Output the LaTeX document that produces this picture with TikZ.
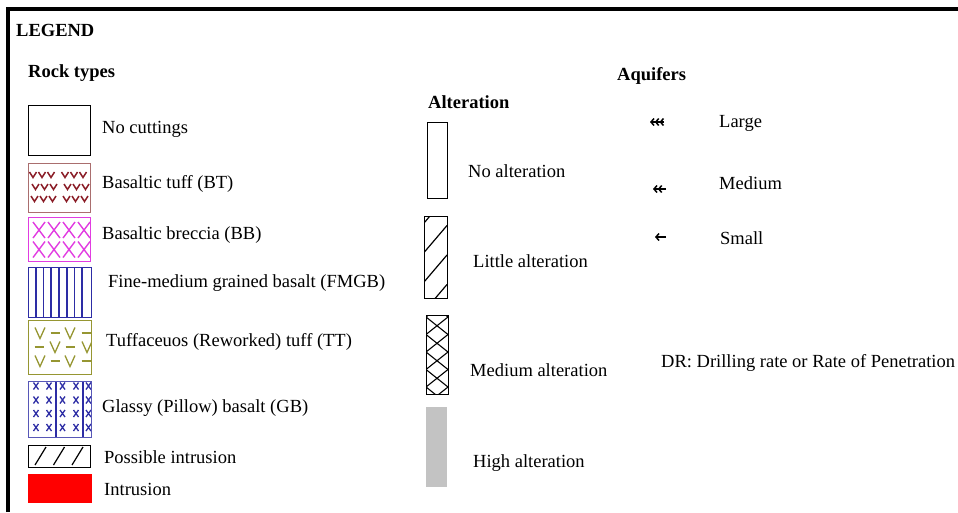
\documentclass[tikz,border=0pt]{standalone}
\usepackage{fontspec}
\setmainfont{Liberation Serif}
\usetikzlibrary{arrows.meta}
\definecolor{TuffRed}{RGB}{139,30,40}
\definecolor{TuffEdge}{RGB}{170,110,110}
\definecolor{BrecciaPink}{RGB}{225,60,225}
\definecolor{BasaltBlue}{RGB}{45,45,165}
\definecolor{ReworkOlive}{RGB}{150,150,50}
\definecolor{AltGray}{RGB}{195,195,195}

\begin{document}
\begin{tikzpicture}[x=1pt, y=-1pt, every node/.style={inner sep=0pt, anchor=base west, font=\fontsize{18.5}{22}\selectfont},
  head/.style={font=\fontsize{18.5}{22}\selectfont\bfseries},
  swatch/.style={line width=1pt},
  aqarrow/.style={line width=1.5pt},
  barb/.style={-{Straight Barb[length=3pt,width=7pt]}}]
\useasboundingbox (0,0) rectangle (958,512);
% frame
\draw[line width=3.5pt] (8,512) -- (8,9) -- (958,9);
\node[head] (leg) at (16,36) {LEGEND};
\node[head] (rock) at (28,77) {Rock types};
\node[head] (alt) at (428,108) {Alteration};
\node[head] (aqf) at (617,80) {Aquifers};

% rock types
\draw[swatch] (28,105) rectangle (90,155);
\node (nocut) at (102,133) {No cuttings};

\begin{scope}[TuffRed, line width=1.5pt]
\foreach \yy/\xo in {172/29.5, 184/32, 196/31}
  \foreach \dx in {0,9,18,32,41,50}
    \draw (\xo+\dx,\yy) -- (\xo+\dx+3.5,\yy+5.5) -- (\xo+\dx+7,\yy);
\end{scope}
\draw[swatch, TuffEdge] (28,163) rectangle (90,212);
\node (bt) at (102,188) {Basaltic tuff (BT)};

\begin{scope}[BrecciaPink, line width=1.4pt]
\foreach \yy in {230,249.5}
  \foreach \xx in {39,54,69,84}
    \draw (\xx-6,\yy-8) -- (\xx+6,\yy+8) (\xx-6,\yy+8) -- (\xx+6,\yy-8);
\end{scope}
\draw[swatch, BrecciaPink] (28,217) rectangle (90,261);
\node (bb) at (102,239) {Basaltic breccia (BB)};

\foreach \xx in {36,43.5,51,59,67,74.5,82}
  \draw[BasaltBlue, line width=1.2pt] (\xx,267) -- (\xx,317);
\draw[swatch, BasaltBlue] (28,267) rectangle (91,317);
\node (fmgb) at (108,287) {Fine-medium grained basalt (FMGB)};

\begin{scope}[ReworkOlive, line width=1.3pt]
\clip (28,320) rectangle (91,374);
\foreach \yy/\va/\vb in {333/40/70, 347/55/87, 361/40/70}
  \draw (\va-5,\yy-5.5) -- (\va,\yy+5.5) -- (\va+5,\yy-5.5)
        (\vb-5,\yy-5.5) -- (\vb,\yy+5.5) -- (\vb+5,\yy-5.5);
\foreach \yy/\da/\db in {333/55/86, 347/39/70, 361/55/86}
  \draw (\da-4.5,\yy) -- (\da+4.5,\yy) (\db-4.5,\yy) -- (\db+4.5,\yy);
\end{scope}
\draw[swatch, ReworkOlive] (28,320) rectangle (91,374);
\node (tt) at (106,346) {Tuffaceuos (Reworked) tuff (TT)};

\begin{scope}[BasaltBlue, line width=1.3pt]
\clip (28,381) rectangle (91,437);
\draw[line width=1.2pt] (56,381) -- (56,437) (83,381) -- (83,437);
\foreach \yy in {386,400,413.5,427.5}
  \foreach \xx in {36,49,62.5,76,88.5}
    \draw (\xx-2.5,\yy-3.5) -- (\xx+2.5,\yy+3.5) (\xx-2.5,\yy+3.5) -- (\xx+2.5,\yy-3.5);
\end{scope}
\draw[swatch, BasaltBlue!80] (28,381) rectangle (91,437);
\node (gb) at (102,412) {Glassy (Pillow) basalt (GB)};

\begin{scope}
\clip (28,445) rectangle (90,467);
\foreach \xx in {16.5,35,53.5,72}
  \draw[line width=1.2pt] (\xx,465) -- (\xx+11,447);
\end{scope}
\draw[swatch] (28,445) rectangle (90,467);
\node (pint) at (104,463) {Possible intrusion};

\fill[red] (28,474) rectangle (92,503);
\node (intr) at (104,495) {Intrusion};

% alteration
\draw[swatch] (427,122) rectangle (447,198);
\node (noalt) at (468,177) {No alteration};

\begin{scope}
\clip (424,216) rectangle (447,298);
\foreach \yy in {223,252.5,282,311.5}
  \draw[line width=1.2pt] (424,\yy) -- (447,\yy-27);
\end{scope}
\draw[swatch] (424,216) rectangle (447,298);
\node (litalt) at (473,267) {Little alteration};

\begin{scope}
\clip (426,315) rectangle (448,394);
\foreach \k in {-1,...,4}
  \draw[line width=1.1pt] (426,317+17.5*\k) -- (448,334.5+17.5*\k) (426,334.5+17.5*\k) -- (448,317+17.5*\k);
\end{scope}
\draw[swatch] (426,315) rectangle (448,394);
\node (medalt) at (470,376) {Medium alteration};

\fill[AltGray] (426,407) rectangle (447,487);
\node (highalt) at (473,467) {High alteration};

% aquifers
\coordinate (lgS) at (664,122);
\coordinate (lgE) at (650,122);
\coordinate (mdS) at (666,189);
\coordinate (mdE) at (653,189);
\coordinate (smS) at (666,237);
\coordinate (smE) at (655,237);
\draw[aqarrow, -{Straight Barb[length=3pt,width=7pt]Straight Barb[length=3pt,width=7pt]Straight Barb[length=3pt,width=7pt]}] (lgS) -- (lgE);
\draw[aqarrow, -{Straight Barb[length=3pt,width=7pt]Straight Barb[length=3pt,width=7pt]}] (mdS) -- (mdE);
\draw[aqarrow, barb] (smS) -- (smE);
\node (large) at (719,127) {Large};
\node (medium) at (719,189) {Medium};
\node (small) at (720,244) {Small};

\node (dr) at (661,367) {DR: Drilling rate or Rate of Penetration};
\end{tikzpicture}
\end{document}
